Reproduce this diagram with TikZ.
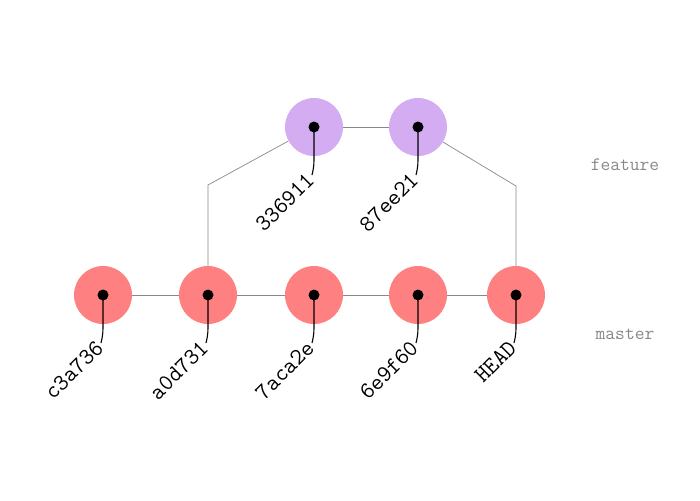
\documentclass[tikz,border=0pt]{standalone}
\definecolor{cred}{RGB}{255,128,128}
\definecolor{cpurple}{RGB}{211,172,242}
\definecolor{cgray}{RGB}{136,136,136}
\begin{document}
\begin{tikzpicture}[x=1pt,y=-1pt,
  commit/.style={circle,minimum size=58pt,inner sep=0pt,draw=none},
  mcommit/.style={commit,fill=cred},
  fcommit/.style={commit,fill=cpurple},
  dotst/.style={circle,fill=black,minimum size=11pt,inner sep=0pt},
  hash/.style={font=\ttfamily\fontsize{23.5}{23.5}\selectfont,rotate=45,anchor=east,inner sep=2pt},
  conn/.style={draw=cgray,line width=0.7pt},
  tether/.style={draw=black,line width=1.1pt},
  branch/.style={font=\ttfamily\fontsize{19}{19}\selectfont,text=cgray}]
\useasboundingbox (0,0) rectangle (700,500);
% commits
\node[mcommit] (m1) at (103,295) {};
\node[mcommit] (m2) at (208,295) {};
\node[mcommit] (m3) at (314,295) {};
\node[mcommit] (m4) at (418,295) {};
\node[mcommit] (m5) at (516,295) {};
\node[fcommit] (f1) at (314,127) {};
\node[fcommit] (f2) at (418,127) {};
% connectors
\coordinate (k1) at (208,185);
\coordinate (k2) at (516,186);
\draw[conn] (m1) -- (m2);
\draw[conn] (m2) -- (m3);
\draw[conn] (m3) -- (m4);
\draw[conn] (m4) -- (m5);
\draw[conn] (f1) -- (f2);
\draw[conn] (m2) -- (k1) -- (f1);
\draw[conn] (f2) -- (k2) -- (m5);
% dots
\foreach \n in {m1,m2,m3,m4,m5,f1,f2}{\node[dotst] (d\n) at (\n.center) {};}
% labels
\node[hash] (lm1) at (101,343) {c3a736};
\node[hash] (lm2) at (206,343) {a0d731};
\node[hash] (lm3) at (312,343) {7aca2e};
\node[hash] (lm4) at (416,343) {6e9f60};
\node[hash] (lm5) at (514,343) {HEAD};
\node[hash] (lf1) at (312,175) {336911};
\node[hash] (lf2) at (416,175) {87ee21};
\foreach \n in {m1,m2,m3,m4,m5,f1,f2}{
  \draw[tether] (d\n.center) -- ++(0,33) .. controls +(0,6) and +(1,-4) .. (l\n.east);
}
\node[branch] (bf) at (625,165) {feature};
\node[branch] (bm) at (625,334) {master};
\end{tikzpicture}
\end{document}
